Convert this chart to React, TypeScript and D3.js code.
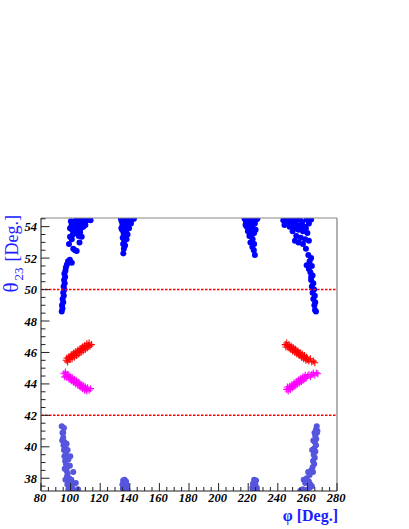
import React from "react";
import * as d3 from "d3";

// [phi, theta23] points
const topLeft: [number, number][] = [
  [94.0,48.6],[94.5,48.8],[94.2,49.0],[95.0,49.2],[94.6,49.4],[95.4,49.6],[95.0,49.8],[95.8,50.0],[95.3,50.2],[96.0,50.4],
  [95.6,50.6],[96.3,50.8],[95.8,51.0],[96.5,51.2],[96.8,51.4],[97.5,51.6],[98.3,51.8],[99.5,51.9],[100.8,51.7],[101.8,52.6],
  [103.0,52.5],[104.1,52.45],[98.9,52.9],[99.6,53.35],[100.8,53.2],[101.5,53.5],[103.0,53.6],[104.5,53.8],[106.4,53.65],[107.5,53.35],
  [105.5,53.4],[107.0,53.9],[108.6,54.0],[99.6,53.9],[100.7,54.1],[102.0,54.3],[103.5,54.4],[105.0,54.2],[105.2,54.5],[106.5,54.4],
  [108.0,54.45],[109.5,54.3],[111.0,54.4],[112.0,54.5],[113.5,54.4],[110.0,54.1],[104.1,54.0],[101.0,53.8],[100.2,54.35],[107.0,54.2],
  [102.5,53.9],[106.0,53.0],
];
const topMid: [number, number][] = [
  [135.6,52.3],[136.0,52.6],[135.5,52.9],[136.3,53.1],[135.2,53.3],[136.8,53.4],[135.8,53.6],[137.5,53.7],[134.8,53.8],[136.5,53.9],
  [138.2,54.0],[135.0,54.1],[137.0,54.15],[139.0,54.2],[134.5,54.35],[136.0,54.4],[138.0,54.45],[140.0,54.4],[141.5,54.45],[135.5,54.5],
  [137.5,54.3],[136.8,52.8],[134.0,54.5],[142.8,54.5],[139.5,53.9],[138.5,53.5],[134.3,53.9],[140.8,54.2],[137.8,53.2],
];
const topMid2: [number, number][] = [
  [224.5,52.2],[223.8,52.5],[222.8,52.7],[224.0,52.9],[221.5,53.0],[223.0,53.2],[220.8,53.4],[222.5,53.5],[224.0,53.6],[219.8,53.7],
  [221.5,53.8],[223.2,53.9],[219.0,54.0],[220.5,54.1],[222.0,54.15],[224.5,54.2],[218.5,54.3],[220.0,54.4],[221.5,54.45],[223.5,54.4],
  [225.5,54.45],[217.5,54.5],[222.8,53.0],[225.0,53.8],[218.2,54.1],[226.2,54.5],
];
const topRight: [number, number][] = [
  [243.7,54.4],[244.5,54.1],[246,54.45],[247.5,54.3],[249,54.45],[250.5,54.2],[252,54.4],[253.5,54.1],[255,54.45],[256.5,54.3],
  [258,54.0],[259.5,54.45],[261,54.2],[262.5,54.45],[248,54.0],[251,53.9],[254,53.8],[257,53.7],[260,53.6],[252.5,53.4],
  [255.5,53.3],[258.5,53.2],[261,53.1],[254,53.0],[257,52.9],[251.6,53.1],[259,52.6],[260.6,52.2],[259.5,51.55],[261.5,51.8],
  [261.0,51.3],[263,51.5],[262,51.1],[263.5,50.9],[262.5,50.6],[264,50.4],[263,50.2],[264.5,50.0],[263.5,49.8],[265,49.6],
  [264,49.4],[265.3,49.2],[264.7,49.0],[265.1,48.7],[265.8,48.6],[262.5,50.8],[256,54.0],[250,53.7],[259,53.9],[262.5,52.0],
];
const botLeft: [number, number][] = [
  [94,41.3],[95.5,41.2],[94.5,40.9],[95,40.6],[94.3,40.4],[95.8,40.3],[95.2,40.1],[96.5,40.0],[95.5,39.8],[96.8,39.6],
  [95.8,39.4],[97.5,39.3],[96.3,39.1],[98.5,39.2],[96.8,38.9],[97.5,38.7],[99.5,38.8],[97.2,38.5],[98.0,38.3],[101.8,38.4],
  [97.5,38.1],[99,38.0],[98.2,37.8],[100.5,37.9],[103.5,37.7],[97.8,37.6],[99.5,37.5],[101.5,37.6],[98.5,37.3],[100.5,37.35],
  [105,37.3],[102,37.25],[96.5,37.9],[98,39.8],[95,40.9],[97.3,40.2],[99.8,39.4],[96,38.6],
];
const botMid: [number, number][] = [
  [135.5,37.85],[136.5,37.9],[137.5,37.8],[135,37.6],[136.2,37.6],[137.8,37.55],[135.3,37.35],[136.8,37.4],[138.2,37.3],[135.8,37.2],
  [137.2,37.2],[138.5,37.2],
];
const botMid2: [number, number][] = [
  [224,37.9],[225.3,37.85],[223.2,37.65],[224.8,37.6],[222.8,37.4],[224.2,37.35],[225.8,37.4],[223,37.2],[224.5,37.2],[226,37.2],
];
const botRight: [number, number][] = [
  [266.3,41.3],[265.8,41.1],[266.5,40.9],[265.3,40.7],[266,40.5],[265,40.3],[265.8,40.1],[264.5,39.9],[265.4,39.7],[264.2,39.5],
  [265,39.3],[263.8,39.1],[264.6,38.9],[263.5,38.7],[262.5,38.5],[263.8,38.4],[260.5,38.4],[261.5,38.2],[259.5,38.0],[257.5,37.9],
  [258.5,37.7],[261,37.8],[262,37.6],[261.5,37.4],[259.5,37.25],[257,37.3],[255.2,37.2],[263,37.5],[264,40.4],[266.8,41.0],
  [264.8,40.9],[263.2,39.8],
];
const redLeft: [number, number][] = [
  [97.0,45.5],[97.5,45.65],[98,45.4],[98.5,45.6],[99,45.75],[99.5,45.55],[100,45.7],[100.5,45.85],[101,45.6],[101.5,45.8],
  [102,45.95],[102.5,45.7],[103,45.9],[103.5,46.05],[104,45.8],[104.5,46.0],[105,46.15],[105.5,45.9],[106,46.1],[106.5,46.25],
  [107,46.0],[107.5,46.2],[108,46.35],[108.5,46.1],[109,46.3],[109.5,46.45],[110,46.2],[110.5,46.4],[111,46.55],[111.5,46.3],
  [112,46.45],[112.5,46.6],[113,46.4],[114,46.5],
];
const magLeft: [number, number][] = [
  [95.5,44.65],[96,44.45],[96.5,44.75],[97,44.55],[97.5,44.4],[98,44.6],[98.5,44.45],[99,44.3],[99.5,44.5],[100,44.35],
  [100.5,44.2],[101,44.4],[101.5,44.25],[102,44.1],[102.5,44.3],[103,44.15],[103.5,44.0],[104,44.2],[104.5,44.05],[105,43.9],
  [105.5,44.1],[106,43.95],[106.5,43.8],[107,44.0],[107.5,43.85],[108,43.7],[108.5,43.9],[109,43.75],[109.5,43.6],[110,43.8],
  [110.5,43.65],[111,43.55],[111.5,43.75],[112.5,43.6],[113.5,43.7],
];
const redRight: [number, number][] = [
  [245,46.5],[245.5,46.35],[246,46.6],[246.5,46.45],[247,46.3],[247.5,46.5],[248,46.35],[248.5,46.2],[249,46.4],[249.5,46.25],
  [250,46.1],[250.5,46.3],[251,46.15],[251.5,46.0],[252,46.2],[252.5,46.05],[253,45.9],[253.5,46.1],[254,45.95],[254.5,45.8],
  [255,46.0],[255.5,45.85],[256,45.7],[256.5,45.9],[257,45.75],[257.5,45.6],[258,45.8],[258.5,45.65],[259,45.5],[259.5,45.7],
  [260,45.55],[261,45.45],[262,45.6],[263,45.4],[264,45.45],[265,45.35],
];
const magRight: [number, number][] = [
  [246,43.65],[246.5,43.8],[247,43.55],[247.5,43.7],[248,43.85],[248.5,43.65],[249,43.8],[249.5,43.95],[250,43.75],[250.5,43.9],
  [251,44.05],[251.5,43.85],[252,44.0],[252.5,44.15],[253,43.95],[253.5,44.1],[254,44.25],[254.5,44.05],[255,44.2],[255.5,44.35],
  [256,44.15],[256.5,44.3],[257,44.45],[257.5,44.25],[258,44.4],[258.5,44.55],[259,44.35],[260,44.5],[261,44.6],[262,44.45],
  [263,44.6],[264,44.7],[265,44.55],[266,44.7],[267,44.65],
];
const refLines = [50, 42];
const xTicks = [80, 100, 120, 140, 160, 180, 200, 220, 240, 260, 280];
const yTicks = [38, 40, 42, 44, 46, 48, 50, 52, 54];

const L = 41, R = 337, T = 218, B = 491;
const SERIF = '"Liberation Serif", "Times New Roman", "DejaVu Serif", serif';

export default function App() {
  const x = d3.scaleLinear().domain([80, 280]).range([L, R]);
  const y = d3.scaleLinear().domain([37.19, 54.55]).range([B, T]);
  const xMinor = d3.range(80, 280.01, 5);
  const yMinor = d3.range(37.5, 54.51, 0.5);
  const blue = [...topLeft, ...topMid, ...topMid2, ...topRight];
  const slate = [...botLeft, ...botMid, ...botMid2, ...botRight];
  const cross = (pts: [number, number][], color: string, key: string) =>
    pts.map((p, i) => {
      const cx = x(p[0]), cy = y(p[1]);
      return (
        <path key={key + i} d={`M${cx - 3.5},${cy}H${cx + 3.5}M${cx},${cy - 3.5}V${cy + 3.5}`} stroke={color} strokeWidth={1.1} fill="none" />
      );
    });
  const tickStyle: React.CSSProperties = { fontFamily: SERIF, fontWeight: "bold", fontStyle: "italic", fontSize: 12.5 };
  return (
    <div style={{ position: "absolute", left: 0, top: 0 }}>
      <svg width={409} height={529} style={{ display: "block", background: "#fff" }}>
        <defs>
          <clipPath id="frame"><rect x={L} y={T} width={R - L} height={B - T} /></clipPath>
        </defs>
        <g clipPath="url(#frame)">
          {blue.map((p, i) => <circle key={"b" + i} cx={x(p[0])} cy={y(p[1])} r={3} fill="#0000ff" />)}
          {slate.map((p, i) => <circle key={"s" + i} cx={x(p[0])} cy={y(p[1])} r={3} fill="#5555dd" />)}
          {cross(redLeft, "#ff0000", "rl")}
          {cross(redRight, "#ff0000", "rr")}
          {cross(magLeft, "#ff00ff", "ml")}
          {cross(magRight, "#ff00ff", "mr")}
        </g>
        {refLines.map(v => (
          <line key={"r" + v} x1={L} x2={R} y1={y(v)} y2={y(v)} stroke="#ff0000" strokeWidth={1.5} strokeDasharray="2.5,1.5" />
        ))}
        <line x1={L} x2={R} y1={T} y2={T} stroke="#888" strokeWidth={1.2} />
        <line x1={R} x2={R} y1={T} y2={B} stroke="#999" strokeWidth={1.5} />
        <line x1={L} x2={R} y1={B} y2={B} stroke="#222" strokeWidth={1.2} />
        <line x1={L} x2={L} y1={T} y2={B} stroke="#888" strokeWidth={2} />
        {xMinor.map(v => {
          const major = v % 20 === 0;
          return <line key={"xt" + v} x1={x(v)} x2={x(v)} y1={B} y2={B - (major ? 8 : 4)} stroke="#222" strokeWidth={1} />;
        })}
        {yMinor.map(v => {
          const major = Math.abs(v % 2) < 1e-6;
          return <line key={"yt" + v} x1={L} x2={L + (major ? 8.5 : 4.5)} y1={y(v)} y2={y(v)} stroke="#222" strokeWidth={1} />;
        })}
        {xTicks.map(v => (
          <text key={"xl" + v} x={x(v) - 1} y={501.5} textAnchor="middle" style={tickStyle}>{v}</text>
        ))}
        {yTicks.map(v => (
          <text key={"yl" + v} x={37} y={y(v) + 4.5} textAnchor="end" style={tickStyle}>{v}</text>
        ))}
        <text x={338} y={521} textAnchor="end" fill="#2020ff" style={{ fontFamily: SERIF, fontWeight: "bold", fontSize: 16 }}>φ [Deg.]</text>
        <text transform="translate(18,215) rotate(-90)" textAnchor="end" fill="#2020ff" style={{ fontFamily: SERIF, fontSize: 18 }}>
          <tspan fontSize={21}>θ</tspan><tspan fontSize={13} dy={5} dx={2}>23</tspan><tspan dy={-5} dx={6}>[Deg.]</tspan>
        </text>
      </svg>
    </div>
  );
}
